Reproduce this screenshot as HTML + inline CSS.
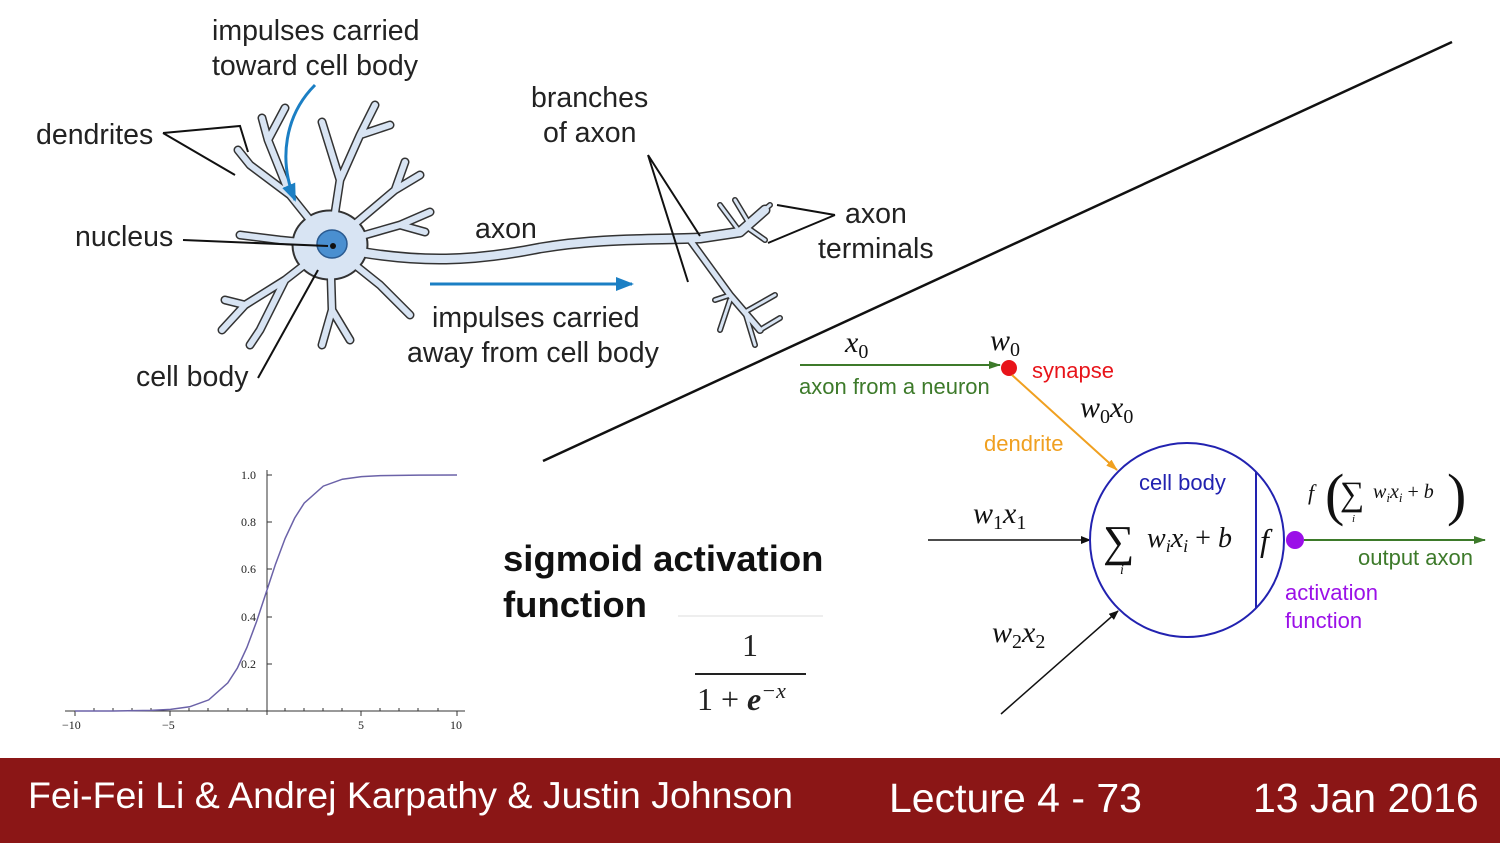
<!DOCTYPE html>
<html><head><style>
body{margin:0;width:1500px;height:843px;overflow:hidden;background:#fff;}
svg{display:block}
text{font-family:"Liberation Sans",sans-serif}
.m text{font-family:"Liberation Serif",serif;font-style:italic}
</style></head><body>
<svg width="1500" height="843" viewBox="0 0 1500 843" xmlns="http://www.w3.org/2000/svg">
<defs>
<marker id="ab" markerWidth="10" markerHeight="8" refX="9" refY="4" orient="auto" markerUnits="userSpaceOnUse"><path d="M0,0L10,4L0,8z" fill="#111"/></marker>
<marker id="ag" markerWidth="12" markerHeight="8" refX="11" refY="4" orient="auto" markerUnits="userSpaceOnUse"><path d="M0,0L12,4L0,8z" fill="#3d7a2a"/></marker>
<marker id="ao" markerWidth="12" markerHeight="8" refX="11" refY="4" orient="auto" markerUnits="userSpaceOnUse"><path d="M0,0L12,4L0,8z" fill="#f0a020"/></marker>
<marker id="abl" markerWidth="18" markerHeight="14" refX="16" refY="7" orient="auto" markerUnits="userSpaceOnUse"><path d="M0,0L18,7L0,14z" fill="#1b7fc4"/></marker>
</defs>

<g fill="none" stroke="#333" stroke-linecap="round" stroke-linejoin="round">
<g stroke-width="9">
<path d="M330,245 L290,195 L268,140 L262,118 M268,140 L285,108 M290,195 L250,165 L238,150"/>
<path d="M330,245 L340,180 L322,122 M340,180 L360,135 L375,105 M360,135 L390,125"/>
<path d="M330,245 L395,190 L405,162 M395,190 L420,175"/>
<path d="M330,245 L400,225 L430,212 M400,225 L425,232"/>
<path d="M330,245 L285,280 L245,305 L222,330 M245,305 L225,300 M285,280 L260,330 L250,345"/>
<path d="M330,245 L332,310 L322,345 M332,310 L350,340"/>
<path d="M330,245 L380,285 L410,315"/>
<path d="M330,245 L280,240 L240,235"/>
</g>
<path d="M360,252 C420,262 470,262 540,248 C600,238 650,240 700,238 L740,232 L765,210" stroke-width="11"/>
<path d="M690,240 L730,295 L760,330" stroke-width="8"/>
<path d="M740,232 L720,205 M750,225 L735,200 M752,220 L770,205 M748,228 L765,240 M730,295 L715,300 M745,312 L775,295 M745,312 L755,345 M760,330 L780,318 M730,300 L720,330" stroke-width="6"/>
<ellipse cx="330" cy="245" rx="38" ry="35" fill="#333"/>
</g>
<g fill="none" stroke="#d8e4f3" stroke-linecap="round" stroke-linejoin="round">
<g stroke-width="6">
<path d="M330,245 L290,195 L268,140 L262,118 M268,140 L285,108 M290,195 L250,165 L238,150"/>
<path d="M330,245 L340,180 L322,122 M340,180 L360,135 L375,105 M360,135 L390,125"/>
<path d="M330,245 L395,190 L405,162 M395,190 L420,175"/>
<path d="M330,245 L400,225 L430,212 M400,225 L425,232"/>
<path d="M330,245 L285,280 L245,305 L222,330 M245,305 L225,300 M285,280 L260,330 L250,345"/>
<path d="M330,245 L332,310 L322,345 M332,310 L350,340"/>
<path d="M330,245 L380,285 L410,315"/>
<path d="M330,245 L280,240 L240,235"/>
</g>
<path d="M360,252 C420,262 470,262 540,248 C600,238 650,240 700,238 L740,232 L765,210" stroke-width="8"/>
<path d="M690,240 L730,295 L760,330" stroke-width="5"/>
<path d="M740,232 L720,205 M750,225 L735,200 M752,220 L770,205 M748,228 L765,240 M730,295 L715,300 M745,312 L775,295 M745,312 L755,345 M760,330 L780,318 M730,300 L720,330" stroke-width="3"/>
<ellipse cx="330" cy="245" rx="36" ry="33" fill="#d8e4f3"/>
</g>
<ellipse cx="332" cy="244" rx="15" ry="14" fill="#4a8fd0" stroke="#2a5a90" stroke-width="1.5"/>
<circle cx="333" cy="246" r="3" fill="#111"/>

<path d="M315,85 C285,115 278,160 295,200" fill="none" stroke="#1b7fc4" stroke-width="3" marker-end="url(#abl)"/>
<line x1="430" y1="284" x2="632" y2="284" stroke="#1b7fc4" stroke-width="3" marker-end="url(#abl)"/>

<g font-size="28.5" fill="#222">
<text x="212" y="40">impulses carried</text>
<text x="212" y="75">toward cell body</text>
<text x="36" y="144">dendrites</text>
<text x="75" y="246">nucleus</text>
<text x="531" y="107">branches</text>
<text x="543" y="142">of axon</text>
<text x="475" y="238">axon</text>
<text x="845" y="223">axon</text>
<text x="818" y="258">terminals</text>
<text x="432" y="327">impulses carried</text>
<text x="407" y="362">away from cell body</text>
<text x="136" y="386">cell body</text>
</g>
<g stroke="#111" stroke-width="2" fill="none">
<path d="M163,133 L240,126 L248,152 M163,133 L235,175"/>
<path d="M183,240 L328,246"/>
<path d="M648,155 L700,236 M648,155 L688,282"/>
<path d="M835,215 L777,205 M835,215 L768,243"/>
<path d="M258,378 L318,270"/>
</g>

<line x1="543" y1="461" x2="1452" y2="42" stroke="#111" stroke-width="2.5"/>

<g stroke="#333" stroke-width="1" fill="none">
<line x1="65" y1="711" x2="465" y2="711"/>
<line x1="267" y1="470" x2="267" y2="715"/>
<path d="M75,711v5M170,711v5M361,711v5M457,711v5M94,711v-3M113,711v-3M132,711v-3M151,711v-3M189,711v-3M208,711v-3M228,711v-3M247,711v-3M285,711v-3M304,711v-3M323,711v-3M342,711v-3M380,711v-3M399,711v-3M418,711v-3M438,711v-3"/>
<path d="M267,475h5M267,522h5M267,569h5M267,617h5M267,664h5"/>
</g>
<polyline fill="none" stroke="#6b62a8" stroke-width="1.5" points="75,711 113,711 151,710.4 170.5,709.4 189.6,706.8 208.7,699.9 227.8,682.9 237.4,668 246.9,647.5 256.5,621.8 266,593 275.5,564.2 285.1,538.5 294.7,518 304.2,503.1 323.3,486.1 342.4,479.2 361.5,476.6 380.6,475.6 418.8,475.1 457,475"/>
<g class="m">
<g font-size="12" fill="#222" font-style="normal">
<text x="241" y="479" style="font-style:normal">1.0</text><text x="241" y="526" style="font-style:normal">0.8</text><text x="241" y="573" style="font-style:normal">0.6</text><text x="241" y="621" style="font-style:normal">0.4</text><text x="241" y="668" style="font-style:normal">0.2</text>
<text x="62" y="729" style="font-style:normal">−10</text><text x="162" y="729" style="font-style:normal">−5</text><text x="358" y="729" style="font-style:normal">5</text><text x="450" y="729" style="font-style:normal">10</text>
</g>
</g>

<text x="503" y="571" font-size="36.5" font-weight="bold" fill="#111">sigmoid activation</text>
<text x="503" y="617" font-size="36.5" font-weight="bold" fill="#111">function</text>
<line x1="678" y1="616" x2="823" y2="616" stroke="#ddd" stroke-width="1"/>
<g class="m">
<text x="742" y="656" font-size="32" fill="#222" style="font-style:normal">1</text>
<text x="697" y="710" font-size="32" fill="#222" style="font-style:normal">1 + <tspan font-style="italic" font-weight="bold">e</tspan><tspan font-size="22" dy="-12" font-style="italic">−x</tspan></text>
</g>
<line x1="695" y1="674" x2="806" y2="674" stroke="#222" stroke-width="2"/>

<line x1="800" y1="365" x2="1000" y2="365" stroke="#3d7a2a" stroke-width="2" marker-end="url(#ag)"/>
<circle cx="1009" cy="368" r="8" fill="#e8141a"/>
<line x1="1012" y1="375" x2="1117" y2="470" stroke="#f0a020" stroke-width="2" marker-end="url(#ao)"/>
<line x1="928" y1="540" x2="1090" y2="540" stroke="#111" stroke-width="1.5" marker-end="url(#ab)"/>
<line x1="1001" y1="714" x2="1118" y2="611" stroke="#111" stroke-width="1.5" marker-end="url(#ab)"/>
<circle cx="1187" cy="540" r="97" fill="none" stroke="#2222b0" stroke-width="2"/>
<line x1="1256" y1="472" x2="1256" y2="608" stroke="#2222b0" stroke-width="2"/>
<circle cx="1295" cy="540" r="9" fill="#9b10e8"/>
<line x1="1304" y1="540" x2="1485" y2="540" stroke="#3d7a2a" stroke-width="2" marker-end="url(#ag)"/>

<g font-size="22">
<text x="799" y="394" fill="#3d7a2a">axon from a neuron</text>
<text x="1032" y="378" fill="#e8141a">synapse</text>
<text x="984" y="451" fill="#f0a020">dendrite</text>
<text x="1139" y="490" fill="#2222b0">cell body</text>
<text x="1358" y="565" fill="#3d7a2a">output axon</text>
<text x="1285" y="600" fill="#9b10e8">activation</text>
<text x="1285" y="628" fill="#9b10e8">function</text>
</g>
<g class="m" fill="#111">
<text x="845" y="352" font-size="30">x<tspan font-size="20" dy="6" style="font-style:normal">0</tspan></text>
<text x="990" y="350" font-size="30">w<tspan font-size="20" dy="6" style="font-style:normal">0</tspan></text>
<text x="1080" y="417" font-size="30">w<tspan font-size="20" dy="6" style="font-style:normal">0</tspan><tspan dy="-6">x</tspan><tspan font-size="20" dy="6" style="font-style:normal">0</tspan></text>
<text x="973" y="523" font-size="30">w<tspan font-size="20" dy="6" style="font-style:normal">1</tspan><tspan dy="-6">x</tspan><tspan font-size="20" dy="6" style="font-style:normal">1</tspan></text>
<text x="992" y="642" font-size="30">w<tspan font-size="20" dy="6" style="font-style:normal">2</tspan><tspan dy="-6">x</tspan><tspan font-size="20" dy="6" style="font-style:normal">2</tspan></text>
<text x="1103" y="556" font-size="44" style="font-style:normal">∑</text>
<text x="1120" y="574" font-size="14">i</text>
<text x="1147" y="547" font-size="28">w<tspan font-size="18" dy="5">i</tspan><tspan dy="-5">x</tspan><tspan font-size="18" dy="5">i</tspan><tspan dy="-5" style="font-style:normal"> + </tspan>b</text>
<text x="1260" y="551" font-size="32">f</text>
<text x="1308" y="500" font-size="22">f</text>
<text x="1325" y="514" font-size="58" style="font-style:normal">(</text>
<text x="1340" y="505" font-size="34" style="font-style:normal">∑</text>
<text x="1352" y="522" font-size="11">i</text>
<text x="1373" y="498" font-size="20">w<tspan font-size="13" dy="4">i</tspan><tspan dy="-4">x</tspan><tspan font-size="13" dy="4">i</tspan><tspan dy="-4" style="font-style:normal"> + </tspan>b</text>
<text x="1447" y="514" font-size="58" style="font-style:normal">)</text>
</g>

<rect x="0" y="758" width="1500" height="85" fill="#8b1616"/>
<g fill="#fff">
<text x="28" y="808" font-size="37.5">Fei-Fei Li &amp; Andrej Karpathy &amp; Justin Johnson</text>
<text x="889" y="812" font-size="41">Lecture 4 - 73</text>
<text x="1253" y="812" font-size="41">13 Jan 2016</text>
</g>
</svg>
</body></html>
